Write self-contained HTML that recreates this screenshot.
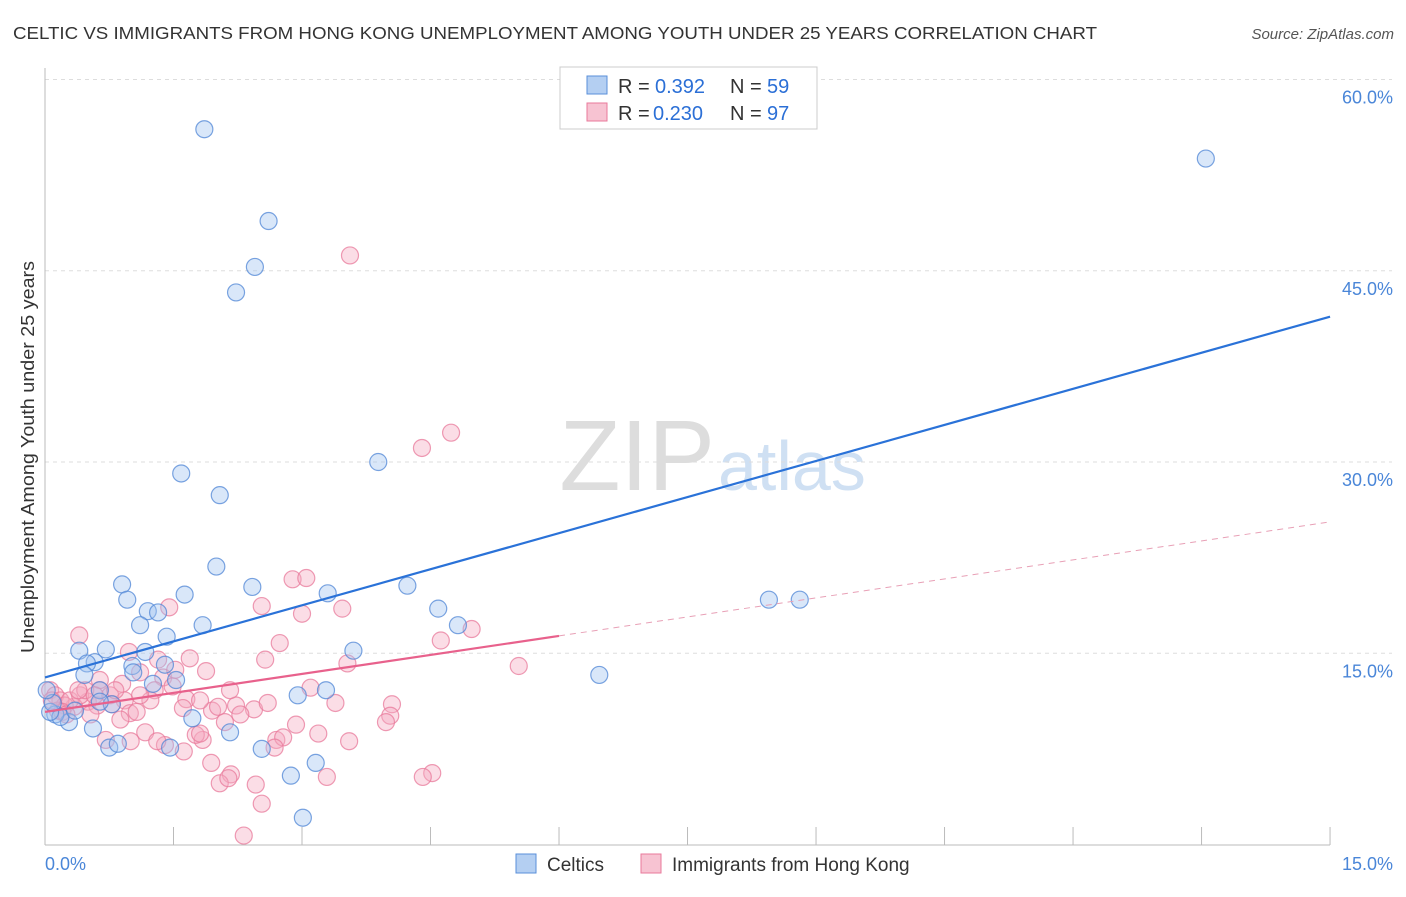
<!DOCTYPE html>
<html><head><meta charset="utf-8"><style>
body{margin:0;background:#fff;font-family:"Liberation Sans",sans-serif}
svg text{font-family:"Liberation Sans",sans-serif}
</style></head><body>
<svg id="c" width="1406" height="892">
<text x="13" y="39" font-size="17.5" fill="#333" textLength="1084" lengthAdjust="spacingAndGlyphs">CELTIC VS IMMIGRANTS FROM HONG KONG UNEMPLOYMENT AMONG YOUTH UNDER 25 YEARS CORRELATION CHART</text>
<text x="1394" y="39" font-size="15" font-style="italic" fill="#555" text-anchor="end">Source: ZipAtlas.com</text>
<text x="715" y="490" font-size="100" font-family="Liberation Serif" fill="#ddd" text-anchor="end">ZIP</text>
<text x="718" y="490" font-size="70" fill="#cfe0f3">atlas</text>
<g id="grid"></g><g id="axes"></g><g id="pts"></g><g id="lines"></g>
<text transform="translate(34,457) rotate(-90)" font-size="18" fill="#333" text-anchor="middle" textLength="392" lengthAdjust="spacingAndGlyphs">Unemployment Among Youth under 25 years</text>
<g>
<rect x="560" y="67" width="257" height="62" fill="#fff" stroke="#ccc"/>
<rect x="587" y="76" width="20" height="18" fill="#b4cff2" stroke="#5a8fd9"/>
<text x="618" y="93" font-size="20" fill="#333">R =</text><text x="655" y="93" font-size="20" fill="#2b6fd6">0.392</text>
<text x="730" y="93" font-size="20" fill="#333">N =</text><text x="767" y="93" font-size="20" fill="#2b6fd6">59</text>
<rect x="587" y="103" width="20" height="18" fill="#f7c3d2" stroke="#e8799b"/>
<text x="618" y="120" font-size="20" fill="#333">R =</text><text x="653" y="120" font-size="20" fill="#2b6fd6">0.230</text>
<text x="730" y="120" font-size="20" fill="#333">N =</text><text x="767" y="120" font-size="20" fill="#2b6fd6">97</text>
</g>
<g><rect x="516" y="854" width="20" height="19" fill="#b4cff2" stroke="#5a8fd9"/><text x="547" y="871" font-size="19" fill="#333">Celtics</text></g>
<g><rect x="641" y="854" width="20" height="19" fill="#f7c3d2" stroke="#e8799b"/><text x="672" y="871" font-size="19" fill="#333">Immigrants from Hong Kong</text></g>
</svg>
<script>
const blueX=[1.86,2.61,2.45,2.23,13.55,3.89,1.59,2.04,2.00,0.90,2.42,0.96,1.63,4.23,3.30,1.20,1.32,1.11,1.84,1.42,4.59,4.82,0.40,0.71,1.17,0.58,0.49,1.02,1.40,3.60,1.03,1.53,0.46,1.26,0.64,2.95,3.28,0.78,8.45,8.81,6.47,1.72,2.16,0.56,0.28,0.75,0.85,1.46,2.53,3.16,2.87,3.01,0.12,0.18,0.06,0.35,0.09,0.02,0.64];
const blueY=[56.1,48.9,45.3,43.3,53.8,30.0,29.1,27.4,21.8,20.4,20.2,19.2,19.6,20.3,19.7,18.3,18.2,17.2,17.2,16.3,18.5,17.2,15.2,15.3,15.1,14.3,14.2,14.0,14.1,15.2,13.5,12.9,13.3,12.6,12.1,11.7,12.1,11.0,19.2,19.2,13.3,9.9,8.8,9.1,9.6,7.6,7.9,7.6,7.5,6.4,5.4,2.1,10.2,10.0,10.4,10.5,11.1,12.1,11.2];
const pinkX=[3.56,4.74,4.40,2.89,3.05,2.53,3.00,3.47,1.45,0.40,4.98,4.62,0.98,1.32,5.53,1.88,3.53,1.69,2.57,2.74,1.11,1.38,1.49,0.90,0.64,0.76,1.28,1.65,0.93,0.50,0.61,0.34,0.78,1.95,2.23,2.44,2.02,2.60,3.10,4.05,3.39,4.03,0.99,1.61,2.10,1.07,2.93,3.98,1.17,3.19,0.71,1.00,1.40,1.31,1.84,1.76,1.81,1.62,2.70,2.78,2.68,3.55,1.94,2.17,2.04,2.14,2.53,3.29,2.46,4.52,4.41,2.32,0.06,0.12,0.18,0.23,0.29,0.41,0.47,0.15,0.20,0.53,0.88,1.23,0.64,1.52,1.81,2.16,2.28,0.82,1.11,0.08,0.25,0.39,0.58];
const pinkY=[46.2,32.3,31.1,20.8,20.9,18.7,18.1,18.5,18.6,16.4,16.9,16.0,15.1,14.5,14.0,13.6,14.2,14.6,14.5,15.8,13.5,13.1,12.4,12.6,12.1,11.7,12.1,11.4,11.3,11.2,10.9,10.8,11.0,10.5,10.9,10.6,10.8,11.1,12.3,11.0,11.1,10.1,10.3,10.7,9.6,10.4,9.4,9.6,8.8,8.7,8.2,8.1,7.8,8.1,8.2,8.6,8.7,7.3,8.2,8.4,7.6,8.1,6.4,5.5,4.8,5.2,3.2,5.3,4.7,5.6,5.3,0.7,12.1,11.7,11.3,10.9,11.3,11.7,12.1,10.5,10.4,10.2,9.8,11.3,12.9,13.7,11.3,12.1,10.2,12.1,11.7,11.3,10.2,12.1,11.7];
const blueLine=[13.1,41.4];
const pinkLine=[10.4,25.3];
const yTicks=[15,30,45,60];
const xTickLabels=["0.0%","15.0%"];
const NS="http://www.w3.org/2000/svg";
const sx=v=>45+v*85.67, sy=v=>844.5-v*12.75;
function mk(t,a,p){const e=document.createElementNS(NS,t);for(const k in a)e.setAttribute(k,a[k]);p.appendChild(e);return e;}
const grid=document.getElementById('grid'),axes=document.getElementById('axes'),pts=document.getElementById('pts'),lines=document.getElementById('lines');
yTicks.forEach(v=>{
 const l=mk('line',{x1:45,x2:1392,y1:sy(v),y2:sy(v),stroke:'#ddd','stroke-dasharray':'4,4'},grid);
 
 
 const t=mk('text',{x:1393,y:sy(v)+24,'font-size':18,fill:'#4a86d8','text-anchor':'end'},axes);
 t.textContent=v.toFixed(1)+'%';
 
 
});
mk('line',{x1:45,x2:45,y1:68,y2:845,stroke:'#bbb'},axes);
mk('line',{x1:45,x2:1330,y1:845,y2:845,stroke:'#bbb'},axes);
for(let i=1;i<=10;i++){mk('line',{x1:sx(i*1.5),x2:sx(i*1.5),y1:827,y2:845,stroke:'#bbb'},axes);}
[[0,45,'start'],[15,1393,'end']].forEach((d,i)=>{const t=mk('text',{x:d[1],y:870,'font-size':18,fill:'#4a86d8','text-anchor':d[2]},axes);t.textContent=xTickLabels[i];
 
 });
function dots(X,Y,fill,stroke,name){X.forEach((x,i)=>{const c=mk('circle',{cx:sx(x),cy:sy(Y[i]),r:8.5,fill:fill,'fill-opacity':0.4,stroke:stroke,'stroke-opacity':0.75,'stroke-width':1.2},pts);
 
 });}
dots(pinkX,pinkY,'#f4a9c0','#e8799b','point-immigrants-hk');
dots(blueX,blueY,'#9fc2ef','#4f86d6','point-celtics');
const bl=mk('line',{x1:sx(0),y1:sy(blueLine[0]),x2:sx(15),y2:sy(blueLine[1]),stroke:'#2a72d8','stroke-width':2.2},lines);


const pm=(v)=>pinkLine[0]+(pinkLine[1]-pinkLine[0])*v/15;
const pl=mk('line',{x1:sx(0),y1:sy(pinkLine[0]),x2:sx(6),y2:sy(pm(6)),stroke:'#e8618c','stroke-width':2.2},lines);


const pd=mk('line',{x1:sx(6),y1:sy(pm(6)),x2:sx(15),y2:sy(pinkLine[1]),stroke:'#e8a0b6','stroke-width':1,'stroke-dasharray':'6,5'},lines);


</script>
</body></html>
